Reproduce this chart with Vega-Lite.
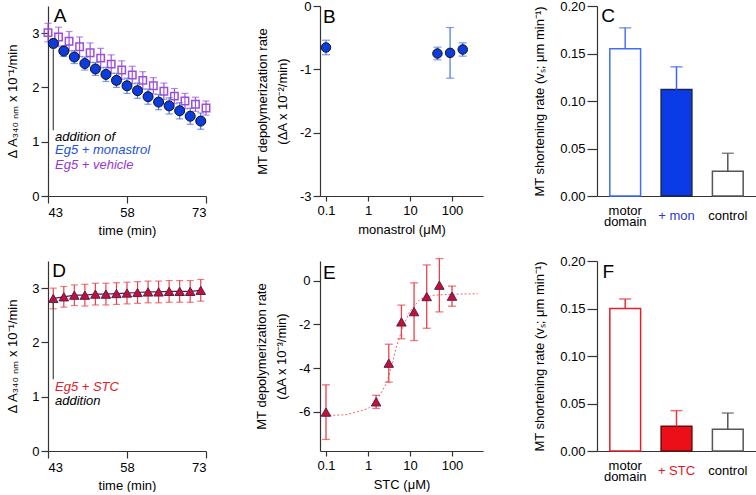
{
  "$schema": "https://vega.github.io/schema/vega-lite/v6.json",
  "padding": {"left": 6, "top": 0, "right": 0, "bottom": 0},
  "background": "white",
  "config": {
    "view": {"stroke": null},
    "font": "Liberation Sans",
    "axis": {
      "grid": false,
      "domainColor": "#333333",
      "tickColor": "#333333",
      "labelColor": "#000000",
      "titleColor": "#000000",
      "labelFontSize": 13,
      "titleFontSize": 13,
      "titleFontWeight": "normal",
      "labelFont": "Liberation Sans",
      "titleFont": "Liberation Sans",
      "tickSize": 6,
      "labelPadding": 2,
      "domainWidth": 1.2,
      "tickWidth": 1.2
    }
  },
  "resolve": {"scale": {"color": "independent", "fill": "independent", "stroke": "independent"}},
  "datasets": {
    "a": [
      {"s": "veh", "t": 43, "v": 3.01, "e": 0.17},
      {"s": "veh", "t": 45, "v": 2.93, "e": 0.18},
      {"s": "veh", "t": 47, "v": 2.85, "e": 0.18},
      {"s": "veh", "t": 49, "v": 2.75, "e": 0.18},
      {"s": "veh", "t": 51, "v": 2.64, "e": 0.18},
      {"s": "veh", "t": 53, "v": 2.54, "e": 0.18},
      {"s": "veh", "t": 55, "v": 2.43, "e": 0.17},
      {"s": "veh", "t": 57, "v": 2.32, "e": 0.17},
      {"s": "veh", "t": 59, "v": 2.23, "e": 0.16},
      {"s": "veh", "t": 61, "v": 2.13, "e": 0.16},
      {"s": "veh", "t": 63, "v": 2.03, "e": 0.15},
      {"s": "veh", "t": 65, "v": 1.93, "e": 0.15},
      {"s": "veh", "t": 67, "v": 1.84, "e": 0.14},
      {"s": "veh", "t": 69, "v": 1.75, "e": 0.14},
      {"s": "veh", "t": 71, "v": 1.69, "e": 0.13},
      {"s": "veh", "t": 73, "v": 1.62, "e": 0.13},
      {"s": "mon", "t": 44, "v": 2.81, "e": 0.08},
      {"s": "mon", "t": 46, "v": 2.67, "e": 0.1},
      {"s": "mon", "t": 48, "v": 2.56, "e": 0.12},
      {"s": "mon", "t": 50, "v": 2.44, "e": 0.12},
      {"s": "mon", "t": 52, "v": 2.34, "e": 0.12},
      {"s": "mon", "t": 54, "v": 2.24, "e": 0.13},
      {"s": "mon", "t": 56, "v": 2.13, "e": 0.13},
      {"s": "mon", "t": 58, "v": 2.03, "e": 0.14},
      {"s": "mon", "t": 60, "v": 1.94, "e": 0.14},
      {"s": "mon", "t": 62, "v": 1.83, "e": 0.14},
      {"s": "mon", "t": 64, "v": 1.73, "e": 0.14},
      {"s": "mon", "t": 66, "v": 1.66, "e": 0.15},
      {"s": "mon", "t": 68, "v": 1.57, "e": 0.15},
      {"s": "mon", "t": 70, "v": 1.47, "e": 0.15},
      {"s": "mon", "t": 72, "v": 1.38, "e": 0.15}
    ],
    "b": [
      {"c": 0.1, "v": -0.655, "e": 0.115},
      {"c": 45, "v": -0.75, "e": 0.1},
      {"c": 90, "v": -0.74, "e": 0.4},
      {"c": 180, "v": -0.687, "e": 0.105}
    ],
    "c": [
      {"g": "motor domain", "v": 0.155, "cap": 0.177},
      {"g": "+ mon", "v": 0.112, "cap": 0.136},
      {"g": "control", "v": 0.026, "cap": 0.045}
    ],
    "d": [
      {"t": 44, "v": 2.81, "e": 0.19},
      {"t": 46, "v": 2.84, "e": 0.19},
      {"t": 48, "v": 2.87, "e": 0.19},
      {"t": 50, "v": 2.87, "e": 0.2},
      {"t": 52, "v": 2.89, "e": 0.2},
      {"t": 54, "v": 2.89, "e": 0.2},
      {"t": 56, "v": 2.9, "e": 0.2},
      {"t": 58, "v": 2.91, "e": 0.2},
      {"t": 60, "v": 2.92, "e": 0.2},
      {"t": 62, "v": 2.93, "e": 0.2},
      {"t": 64, "v": 2.93, "e": 0.2},
      {"t": 66, "v": 2.94, "e": 0.2},
      {"t": 68, "v": 2.94, "e": 0.2},
      {"t": 70, "v": 2.94, "e": 0.2},
      {"t": 72, "v": 2.96, "e": 0.2}
    ],
    "e": [
      {"c": 0.1, "v": -6.02, "e": 1.25},
      {"c": 1.56, "v": -5.55, "e": 0.3},
      {"c": 3.125, "v": -3.78, "e": 0.87},
      {"c": 6.25, "v": -1.89, "e": 0.77},
      {"c": 12.5, "v": -1.42, "e": 1.32},
      {"c": 25, "v": -0.73, "e": 1.45},
      {"c": 50, "v": -0.21, "e": 1.22},
      {"c": 100, "v": -0.71, "e": 0.46}
    ],
    "efit": [
      {"c": 0.12, "v": -6.17},
      {"c": 0.3, "v": -6.14},
      {"c": 0.65, "v": -5.97},
      {"c": 1.0, "v": -5.85},
      {"c": 1.47, "v": -5.59},
      {"c": 2.0, "v": -5.17},
      {"c": 2.79, "v": -4.67},
      {"c": 3.67, "v": -3.9},
      {"c": 4.82, "v": -2.99},
      {"c": 6.9, "v": -2.08},
      {"c": 10, "v": -1.39},
      {"c": 17.3, "v": -0.85},
      {"c": 35.7, "v": -0.67},
      {"c": 100, "v": -0.62},
      {"c": 410, "v": -0.6}
    ],
    "f": [
      {"g": "motor domain", "v": 0.15, "cap": 0.16},
      {"g": "+ STC", "v": 0.026, "cap": 0.0425},
      {"g": "control", "v": 0.023, "cap": 0.04}
    ]
  },
  "columns": 3,
  "spacing": {"row": 65, "column": 114},
  "bounds": "flush",
  "concat": [
    {
      "width": 158,
      "height": 190,
      "layer": [
        {
          "data": {"name": "a"},
          "transform": [{"filter": "datum.s == 'veh'"}],
          "mark": {"type": "errorbar", "color": "#a155dd", "thickness": 1.2, "ticks": {"size": 7}},
          "encoding": {
            "x": {"field": "t", "type": "quantitative", "title": "time (min)", "scale": {"domain": [43, 73], "nice": false},
              "axis": {"values": [43, 58, 73], "format": "d", "tickSize": 7, "labelPadding": 3, "titlePadding": 5}},
            "y": {"field": "v", "type": "quantitative", "title": "Δ A₃₄₀ ₙₘ x 10⁻¹/min", "scale": {"domain": [0, 3.5], "nice": false},
              "axis": {"values": [0, 1, 2, 3], "format": "d", "tickSize": 7, "labelPadding": 2, "titlePadding": 12}},
            "yError": {"field": "e"}
          }
        },
        {
          "data": {"name": "a"},
          "transform": [{"filter": "datum.s == 'veh'"}],
          "mark": {"type": "point", "shape": "square", "filled": false, "stroke": "#9d4ddb", "strokeWidth": 1.5, "size": 55, "opacity": 1},
          "encoding": {"x": {"field": "t", "type": "quantitative", "title": "time (min)"}, "y": {"field": "v", "type": "quantitative", "title": "Δ A₃₄₀ ₙₘ x 10⁻¹/min"}}
        },
        {
          "data": {"name": "a"},
          "transform": [{"filter": "datum.s == 'mon'"}],
          "mark": {"type": "errorbar", "color": "#4a72e6", "thickness": 1.2, "ticks": {"size": 7}},
          "encoding": {"x": {"field": "t", "type": "quantitative", "title": "time (min)"}, "y": {"field": "v", "type": "quantitative", "title": "Δ A₃₄₀ ₙₘ x 10⁻¹/min"}, "yError": {"field": "e"}}
        },
        {
          "data": {"name": "a"},
          "transform": [{"filter": "datum.s == 'mon'"}],
          "mark": {"type": "circle", "fill": "#0b3ce0", "stroke": "#111111", "strokeWidth": 1, "size": 100, "opacity": 1},
          "encoding": {"x": {"field": "t", "type": "quantitative", "title": "time (min)"}, "y": {"field": "v", "type": "quantitative", "title": "Δ A₃₄₀ ₙₘ x 10⁻¹/min"}}
        },
        {
          "data": {"values": [{}]},
          "mark": {"type": "rule", "color": "#444444", "strokeWidth": 1.2},
          "encoding": {"x": {"datum": 44}, "y": {"datum": 2.78}, "y2": {"datum": 1.21}}
        },
        {
          "data": {"values": [{}]},
          "mark": {"type": "text", "text": "addition of", "font": "Liberation Sans", "fontStyle": "italic", "fontSize": 13, "align": "left", "baseline": "middle", "color": "#000000"},
          "encoding": {"x": {"datum": 44.33}, "y": {"datum": 1.09}}
        },
        {
          "data": {"values": [{}]},
          "mark": {"type": "text", "text": "Eg5 + monastrol", "font": "Liberation Sans", "fontStyle": "italic", "fontSize": 13, "align": "left", "baseline": "middle", "color": "#2050dd"},
          "encoding": {"x": {"datum": 44.33}, "y": {"datum": 0.85}}
        },
        {
          "data": {"values": [{}]},
          "mark": {"type": "text", "text": "Eg5 + vehicle", "font": "Liberation Sans", "fontStyle": "italic", "fontSize": 13, "align": "left", "baseline": "middle", "color": "#9438d8"},
          "encoding": {"x": {"datum": 44.33}, "y": {"datum": 0.58}}
        },
        {
          "data": {"values": [{}]},
          "mark": {"type": "text", "text": "A", "font": "Liberation Sans", "fontSize": 19, "align": "left", "baseline": "middle", "color": "#000000"},
          "encoding": {"x": {"datum": 44.1}, "y": {"datum": 3.31}}
        }
      ]
    },
    {
      "width": 163,
      "height": 190,
      "layer": [
        {
          "data": {"name": "b"},
          "mark": {"type": "errorbar", "color": "#4a72e6", "thickness": 1.2, "ticks": {"size": 8}},
          "encoding": {
            "x": {"field": "c", "type": "quantitative", "title": "monastrol (μM)", "scale": {"type": "log", "domain": [0.072, 547], "nice": false},
              "axis": {"values": [0.1, 1, 10, 100], "format": "~g", "tickSize": 5, "labelPadding": 3, "titlePadding": 6}},
            "y": {"field": "v", "type": "quantitative", "title": ["MT depolymerization rate", "(ΔA x 10⁻²/min)"], "scale": {"domain": [-3, 0], "nice": false},
              "axis": {"values": [0, -1, -2, -3], "labelExpr": "'' + datum.value", "tickSize": 7, "labelPadding": 2, "titlePadding": 10, "titleLineHeight": 20}},
            "yError": {"field": "e"}
          }
        },
        {
          "data": {"name": "b"},
          "mark": {"type": "circle", "fill": "#0b3ce0", "stroke": "#111111", "strokeWidth": 1, "size": 90, "opacity": 1},
          "encoding": {"x": {"field": "c", "type": "quantitative", "title": "monastrol (μM)"}, "y": {"field": "v", "type": "quantitative", "title": ["MT depolymerization rate", "(ΔA x 10⁻²/min)"]}}
        },
        {
          "data": {"values": [{}]},
          "mark": {"type": "text", "text": "B", "font": "Liberation Sans", "fontSize": 19, "align": "left", "baseline": "middle", "color": "#000000"},
          "encoding": {"x": {"datum": 0.085}, "y": {"datum": -0.18}}
        }
      ]
    },
    {
      "width": 159,
      "height": 190,
      "layer": [
        {
          "data": {"name": "c"},
          "mark": {"type": "bar", "strokeWidth": 1.5},
          "encoding": {
            "x": {"field": "g", "type": "nominal", "sort": null, "title": null,
              "scale": {"domain": ["motor domain", "+ mon", "control"], "paddingInner": 0.4, "paddingOuter": 0.25},
              "axis": {"ticks": false, "labelAngle": 0, "labelBaseline": "middle", "labelLineHeight": 11,
                "labelPadding": {"condition": {"test": "datum.value == 'motor domain'", "value": 14}, "value": 19},
                "labelExpr": "datum.value == 'motor domain' ? ['motor', 'domain'] : datum.label",
                "labelColor": {"condition": {"test": "datum.value == '+ mon'", "value": "#2a3ad6"}, "value": "#000000"}}},
            "y": {"field": "v", "type": "quantitative", "title": "MT shortening rate (vₛ; μm min⁻¹)", "scale": {"domain": [0, 0.2], "nice": false},
              "axis": {"values": [0, 0.05, 0.1, 0.15, 0.2], "format": ".2f", "tickSize": 10, "labelPadding": 2, "titlePadding": 13}},
            "fill": {"field": "g", "type": "nominal", "legend": null, "scale": {"domain": ["motor domain", "+ mon", "control"], "range": ["#ffffff", "#0a3be6", "#ffffff"]}},
            "stroke": {"field": "g", "type": "nominal", "legend": null, "scale": {"domain": ["motor domain", "+ mon", "control"], "range": ["#4070ee", "#1c2550", "#555555"]}}
          }
        },
        {
          "data": {"name": "c"},
          "mark": {"type": "rule", "strokeWidth": 1.5},
          "encoding": {
            "x": {"field": "g", "type": "nominal", "sort": null, "title": null},
            "y": {"field": "v", "type": "quantitative", "title": "MT shortening rate (vₛ; μm min⁻¹)"},
            "y2": {"field": "cap"},
            "color": {"field": "g", "type": "nominal", "legend": null, "scale": {"domain": ["motor domain", "+ mon", "control"], "range": ["#4d74ee", "#3d64e8", "#555555"]}}
          }
        },
        {
          "data": {"name": "c"},
          "mark": {"type": "tick", "thickness": 1.5, "size": 12, "orient": "horizontal"},
          "encoding": {
            "x": {"field": "g", "type": "nominal", "sort": null, "title": null},
            "y": {"field": "cap", "type": "quantitative", "title": "MT shortening rate (vₛ; μm min⁻¹)"},
            "color": {"field": "g", "type": "nominal", "legend": null}
          }
        },
        {
          "data": {"values": [{}]},
          "mark": {"type": "text", "text": "C", "font": "Liberation Sans", "fontSize": 19, "align": "center", "baseline": "middle", "dx": -17, "color": "#000000"},
          "encoding": {"x": {"datum": "motor domain"}, "y": {"datum": 0.189}}
        }
      ]
    },
    {
      "width": 158,
      "height": 190,
      "layer": [
        {
          "data": {"name": "d"},
          "mark": {"type": "errorbar", "color": "#e8424a", "thickness": 1.2, "ticks": {"size": 7}},
          "encoding": {
            "x": {"field": "t", "type": "quantitative", "title": "time (min)", "scale": {"domain": [43, 73], "nice": false},
              "axis": {"values": [43, 58, 73], "format": "d", "tickSize": 7, "labelPadding": 3, "titlePadding": 5}},
            "y": {"field": "v", "type": "quantitative", "title": "Δ A₃₄₀ ₙₘ x 10⁻¹/min", "scale": {"domain": [0, 3.5], "nice": false},
              "axis": {"values": [0, 1, 2, 3], "format": "d", "tickSize": 7, "labelPadding": 2, "titlePadding": 12}},
            "yError": {"field": "e"}
          }
        },
        {
          "data": {"name": "d"},
          "mark": {"type": "line", "color": "#5a1a5a", "strokeWidth": 1.2},
          "encoding": {"x": {"field": "t", "type": "quantitative", "title": "time (min)"}, "y": {"field": "v", "type": "quantitative", "title": "Δ A₃₄₀ ₙₘ x 10⁻¹/min"}}
        },
        {
          "data": {"name": "d"},
          "mark": {"type": "point", "shape": "triangle-up", "filled": true, "fill": "#c8102e", "stroke": "#50205a", "strokeWidth": 1, "size": 90, "opacity": 1},
          "encoding": {"x": {"field": "t", "type": "quantitative", "title": "time (min)"}, "y": {"field": "v", "type": "quantitative", "title": "Δ A₃₄₀ ₙₘ x 10⁻¹/min"}}
        },
        {
          "data": {"values": [{}]},
          "mark": {"type": "rule", "color": "#444444", "strokeWidth": 1.2},
          "encoding": {"x": {"datum": 44}, "y": {"datum": 2.78}, "y2": {"datum": 1.32}}
        },
        {
          "data": {"values": [{}]},
          "mark": {"type": "text", "text": "Eg5 + STC", "font": "Liberation Sans", "fontStyle": "italic", "fontSize": 13, "align": "left", "baseline": "middle", "color": "#e0202a"},
          "encoding": {"x": {"datum": 44.33}, "y": {"datum": 1.18}}
        },
        {
          "data": {"values": [{}]},
          "mark": {"type": "text", "text": "addition", "font": "Liberation Sans", "fontStyle": "italic", "fontSize": 13, "align": "left", "baseline": "middle", "color": "#000000"},
          "encoding": {"x": {"datum": 44.33}, "y": {"datum": 0.92}}
        },
        {
          "data": {"values": [{}]},
          "mark": {"type": "text", "text": "D", "font": "Liberation Sans", "fontSize": 19, "align": "left", "baseline": "middle", "color": "#000000"},
          "encoding": {"x": {"datum": 43.8}, "y": {"datum": 3.31}}
        }
      ]
    },
    {
      "width": 163,
      "height": 190,
      "layer": [
        {
          "data": {"name": "efit"},
          "mark": {"type": "line", "color": "#ec6a72", "strokeWidth": 1, "strokeDash": [2, 2]},
          "encoding": {
            "x": {"field": "c", "type": "quantitative", "title": "STC (μM)", "scale": {"type": "log", "domain": [0.072, 547], "nice": false},
              "axis": {"values": [0.1, 1, 10, 100], "format": "~g", "tickSize": 5, "labelPadding": 3, "titlePadding": 6}},
            "y": {"field": "v", "type": "quantitative", "title": ["MT depolymerization rate", "(ΔA x 10⁻³/min)"], "scale": {"domain": [-7.8, 0.9], "nice": false},
              "axis": {"values": [0, -2, -4, -6], "labelExpr": "'' + datum.value", "tickSize": 7, "labelPadding": 3, "titlePadding": 10, "titleLineHeight": 20}}
          }
        },
        {
          "data": {"name": "e"},
          "mark": {"type": "errorbar", "color": "#e8424a", "thickness": 1.3, "ticks": {"size": 8}},
          "encoding": {"x": {"field": "c", "type": "quantitative", "title": "STC (μM)"}, "y": {"field": "v", "type": "quantitative", "title": ["MT depolymerization rate", "(ΔA x 10⁻³/min)"]}, "yError": {"field": "e"}}
        },
        {
          "data": {"name": "e"},
          "mark": {"type": "point", "shape": "triangle-up", "filled": true, "fill": "#c8102e", "stroke": "#50205a", "strokeWidth": 1, "size": 90, "opacity": 1},
          "encoding": {"x": {"field": "c", "type": "quantitative", "title": "STC (μM)"}, "y": {"field": "v", "type": "quantitative", "title": ["MT depolymerization rate", "(ΔA x 10⁻³/min)"]}}
        },
        {
          "data": {"values": [{}]},
          "mark": {"type": "text", "text": "E", "font": "Liberation Sans", "fontSize": 19, "align": "left", "baseline": "middle", "color": "#000000"},
          "encoding": {"x": {"datum": 0.085}, "y": {"datum": 0.37}}
        }
      ]
    },
    {
      "width": 159,
      "height": 190,
      "layer": [
        {
          "data": {"name": "f"},
          "mark": {"type": "bar", "strokeWidth": 1.5},
          "encoding": {
            "x": {"field": "g", "type": "nominal", "sort": null, "title": null,
              "scale": {"domain": ["motor domain", "+ STC", "control"], "paddingInner": 0.4, "paddingOuter": 0.25},
              "axis": {"ticks": false, "labelAngle": 0, "labelBaseline": "middle", "labelLineHeight": 11,
                "labelPadding": {"condition": {"test": "datum.value == 'motor domain'", "value": 14}, "value": 19},
                "labelExpr": "datum.value == 'motor domain' ? ['motor', 'domain'] : datum.label",
                "labelColor": {"condition": {"test": "datum.value == '+ STC'", "value": "#e2161f"}, "value": "#000000"}}},
            "y": {"field": "v", "type": "quantitative", "title": "MT shortening rate (vₛ; μm min⁻¹)", "scale": {"domain": [0, 0.2], "nice": false},
              "axis": {"values": [0, 0.05, 0.1, 0.15, 0.2], "format": ".2f", "tickSize": 10, "labelPadding": 2, "titlePadding": 13}},
            "fill": {"field": "g", "type": "nominal", "legend": null, "scale": {"domain": ["motor domain", "+ STC", "control"], "range": ["#ffffff", "#ec0f17", "#ffffff"]}},
            "stroke": {"field": "g", "type": "nominal", "legend": null, "scale": {"domain": ["motor domain", "+ STC", "control"], "range": ["#e3202c", "#6b0b0f", "#555555"]}}
          }
        },
        {
          "data": {"name": "f"},
          "mark": {"type": "rule", "strokeWidth": 1.5},
          "encoding": {
            "x": {"field": "g", "type": "nominal", "sort": null, "title": null},
            "y": {"field": "v", "type": "quantitative", "title": "MT shortening rate (vₛ; μm min⁻¹)"},
            "y2": {"field": "cap"},
            "color": {"field": "g", "type": "nominal", "legend": null, "scale": {"domain": ["motor domain", "+ STC", "control"], "range": ["#e8323c", "#e8323c", "#555555"]}}
          }
        },
        {
          "data": {"name": "f"},
          "mark": {"type": "tick", "thickness": 1.5, "size": 12, "orient": "horizontal"},
          "encoding": {
            "x": {"field": "g", "type": "nominal", "sort": null, "title": null},
            "y": {"field": "cap", "type": "quantitative", "title": "MT shortening rate (vₛ; μm min⁻¹)"},
            "color": {"field": "g", "type": "nominal", "legend": null}
          }
        },
        {
          "data": {"values": [{}]},
          "mark": {"type": "text", "text": "F", "font": "Liberation Sans", "fontSize": 19, "align": "center", "baseline": "middle", "dx": -17, "color": "#000000"},
          "encoding": {"x": {"datum": "motor domain"}, "y": {"datum": 0.188}}
        }
      ]
    }
  ]
}
